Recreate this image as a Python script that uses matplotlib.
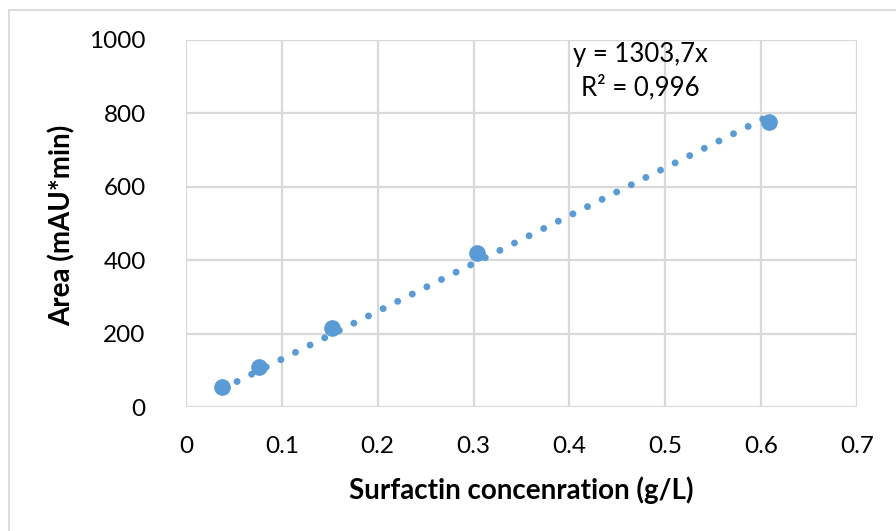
import matplotlib.pyplot as plt
import numpy as np
from matplotlib.lines import Line2D

plt.rcParams['font.family'] = ['Lato', 'DejaVu Sans']

# calibration data: surfactin standards vs. HPLC peak area
conc = [0.038, 0.076, 0.152, 0.304, 0.608]
area = [55, 108, 216, 420, 776]

# linear fit through origin (as reported on the chart)
slope = 1303.7
r2 = 0.996

x_ticks = [0, 0.1, 0.2, 0.3, 0.4, 0.5, 0.6, 0.7]
y_ticks = [0, 200, 400, 600, 800, 1000]

blue = '#5B9BD5'
grid_c = '#D9D9D9'

fig = plt.figure(figsize=(8.96, 5.31), dpi=100)
ax = fig.add_axes([186 / 896, 1 - 407 / 531, (857 - 186) / 896, (407 - 40) / 531])

# trendline across the data range, drawn as round dots
xt = np.array([min(conc), max(conc)])
ax.plot(xt, slope * xt, color=blue, lw=5.0, linestyle=(0, (0.01, 2.34)),
        dash_capstyle='round', solid_capstyle='round', zorder=3, clip_on=False)

ax.plot(conc, area, 'o', color=blue, ms=11, mec=blue, zorder=4, clip_on=False)

ax.set_xlim(0, 0.7)
ax.set_ylim(0, 1000)
ax.set_xticks(x_ticks)
ax.set_yticks(y_ticks)
ax.set_xticklabels(['0' if t == 0 else f'{t:g}' for t in x_ticks])
ax.tick_params(length=0, labelsize=17.5, colors='black')
ax.tick_params(axis='y', pad=29)
ax.tick_params(axis='x', pad=21)
ax.grid(True, color=grid_c, lw=1.6)
ax.set_axisbelow(True)
for s in ax.spines.values():
    s.set_visible(False)

ax.set_xlabel('Surfactin concenration (g/L)', fontsize=20, fontweight='bold')
ax.set_ylabel('Area (mAU*min)', fontsize=20, fontweight='bold')
ax.xaxis.set_label_coords(0.5, -(490 - 407) / 367)
ax.yaxis.set_label_coords(-(186 - 62) / 671, 0.495)
ax.xaxis.label.set_va('center')
ax.yaxis.label.set_va('center')

ax.text(0.4736, 915, f'y = {slope:.1f}x\nR² = {r2:.3f}'.replace('.', ','),
        ha='center', va='center', fontsize=18.5, linespacing=1.4)

# chart area outline (top and left edges)
fig.add_artist(Line2D([8.5 / 896, 1], [1 - 9.5 / 531] * 2, color=grid_c, lw=1.3,
                      transform=fig.transFigure))
fig.add_artist(Line2D([8.5 / 896] * 2, [0, 1 - 9.5 / 531], color=grid_c, lw=1.3,
                      transform=fig.transFigure))

fig.savefig('out.png', dpi=100)
